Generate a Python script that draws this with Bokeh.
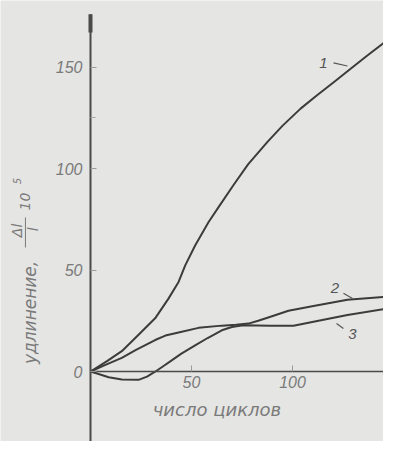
from bokeh.plotting import figure
from bokeh.models import Range1d, LinearAxis, FixedTicker, Label
from bokeh.embed import file_html
from bokeh.resources import INLINE

# curve 1
c1_x = [0, 8, 15.5, 23.8, 32.0, 38.6, 43.6, 46.9, 51.8, 58.4, 63.4, 70.9, 78, 87.5, 95, 104, 112, 120.4, 128, 136.9, 146]
c1_y = [0, 5, 10.0, 18.1, 26.2, 35.9, 44.1, 52.3, 62.1, 73.5, 81, 92, 102, 113, 121, 129.5, 136, 142.5, 148.5, 155.5, 162.5]
# curve 2
c2_x = [0, 7.4, 15.5, 22.3, 32, 37.1, 43.6, 53.5, 65, 72, 78.2, 83, 88, 98, 110.4, 127.2, 149.5]
c2_y = [0, 3.3, 6.7, 10.5, 15.5, 17.7, 19.2, 21.5, 22.6, 23.0, 23.6, 25.0, 26.6, 29.9, 32.3, 35.3, 37.1]
# curve 3
c3_x = [0, 4, 9, 15.5, 23.8, 28, 32, 36, 40.2, 45, 51.8, 58, 65, 70, 75.7, 89, 100.5, 110.4, 127.2, 149.5]
c3_y = [0, -1.2, -2.8, -3.9, -4.1, -2.5, -0.1, 2.6, 5.5, 8.8, 12.9, 16.5, 20.3, 21.9, 22.8, 22.6, 22.5, 24.5, 27.8, 31.4]

x_ticks = [50, 100, 150]
x_tick_labels = {50: "50", 100: "100", 150: ""}
y_ticks = [0, 50, 100, 150]
y_minor = [125]
y_tick_labels = {0: "0", 50: "50", 100: "100", 150: "150"}

curve_names = ["1", "2", "3"]
name_x = [115.3, 121, 129.7]
name_y = [152, 41, 18.7]
lead_x0 = [120.3, 125.2, 125.2]
lead_y0 = [152, 38.5, 21.2]
lead_x1 = [127.2, 129.7, 121.8]
lead_y1 = [150.5, 36.0, 23.6]

BG = "#e5e5e3"
INK = "#3c3c3c"
TXT = "#7a7a7a"

p = figure(width=383, height=441, x_range=Range1d(-44.55, 145.05), y_range=Range1d(-34.48, 182.76),
           output_backend="svg", toolbar_location=None,
           x_axis_location=None, y_axis_location=None, min_border=0)
p.background_fill_color = BG
p.border_fill_color = BG
p.outline_line_color = None
p.grid.visible = False

xa = LinearAxis(fixed_location=0, ticker=FixedTicker(ticks=x_ticks),
                major_label_overrides=x_tick_labels, bounds=(0, 145.05))
ya = LinearAxis(fixed_location=0, ticker=FixedTicker(ticks=y_ticks, minor_ticks=y_minor),
                major_label_overrides=y_tick_labels, bounds=(-34.48, 176))
for ax in (xa, ya):
    ax.axis_line_color = "#4a4a4a"
    ax.major_tick_in = 6
    ax.major_tick_out = 0
    ax.minor_tick_in = 5
    ax.minor_tick_out = 0
    ax.major_tick_line_color = "#9a9a9a"
    ax.minor_tick_line_color = "#a5a5a5"
    ax.major_label_text_font = "Liberation Sans"
    ax.major_label_text_font_style = "italic"
    ax.major_label_text_font_size = "16px"
    ax.major_label_text_color = TXT
xa.axis_line_width = 1.6
ya.axis_line_width = 2
xa.major_label_standoff = 4
ya.major_label_standoff = 8
p.add_layout(xa, "below")
p.add_layout(ya, "left")

top_x = [0, 0]
top_y = [167, 176]
p.line(top_x, top_y, line_color="#4a4a4a", line_width=4)

for xs, ys in ((c1_x, c1_y), (c2_x, c2_y), (c3_x, c3_y)):
    p.line(xs, ys, line_color=INK, line_width=2, line_join="round")

p.segment(lead_x0, lead_y0, lead_x1, lead_y1, line_color="#555555", line_width=1.2)
for t, x, y in zip(curve_names, name_x, name_y):
    p.add_layout(Label(x=x, y=y, text=t, text_align="center", text_baseline="middle",
                       text_font="Liberation Sans", text_font_style="italic",
                       text_font_size="15px", text_color="#555555"))

# x axis title
p.add_layout(Label(x=64, y=-18.5, text="число  циклов", text_align="center",
                   text_baseline="middle", text_font="DejaVu Sans", text_font_style="italic",
                   text_font_size="18px", text_color=TXT))

# y axis title pieces (rotated): "удлинение, Δl/l 10^5"
ylab_text = ["удлинение,", "Δl", "l", "10", "5"]
ylab_x = [-29.7, -36.6, -28.4, -32.2, -36.3]
ylab_y = [29.1, 69.5, 70.0, 83.7, 93.8]
ylab_size = ["17px", "14px", "14px", "14px", "10px"]
for t, x, y, s in zip(ylab_text, ylab_x, ylab_y, ylab_size):
    p.add_layout(Label(x=x, y=y, text=t, angle=1.5708, text_align="center",
                       text_baseline="middle", text_font="DejaVu Sans",
                       text_font_style="italic", text_font_size=s, text_color=TXT))
bar_x = [-32.2, -32.2]
bar_y = [61.1, 75.9]
p.line(bar_x, bar_y, line_color=TXT, line_width=1)

open("out.html", "w").write(file_html(p, INLINE))
